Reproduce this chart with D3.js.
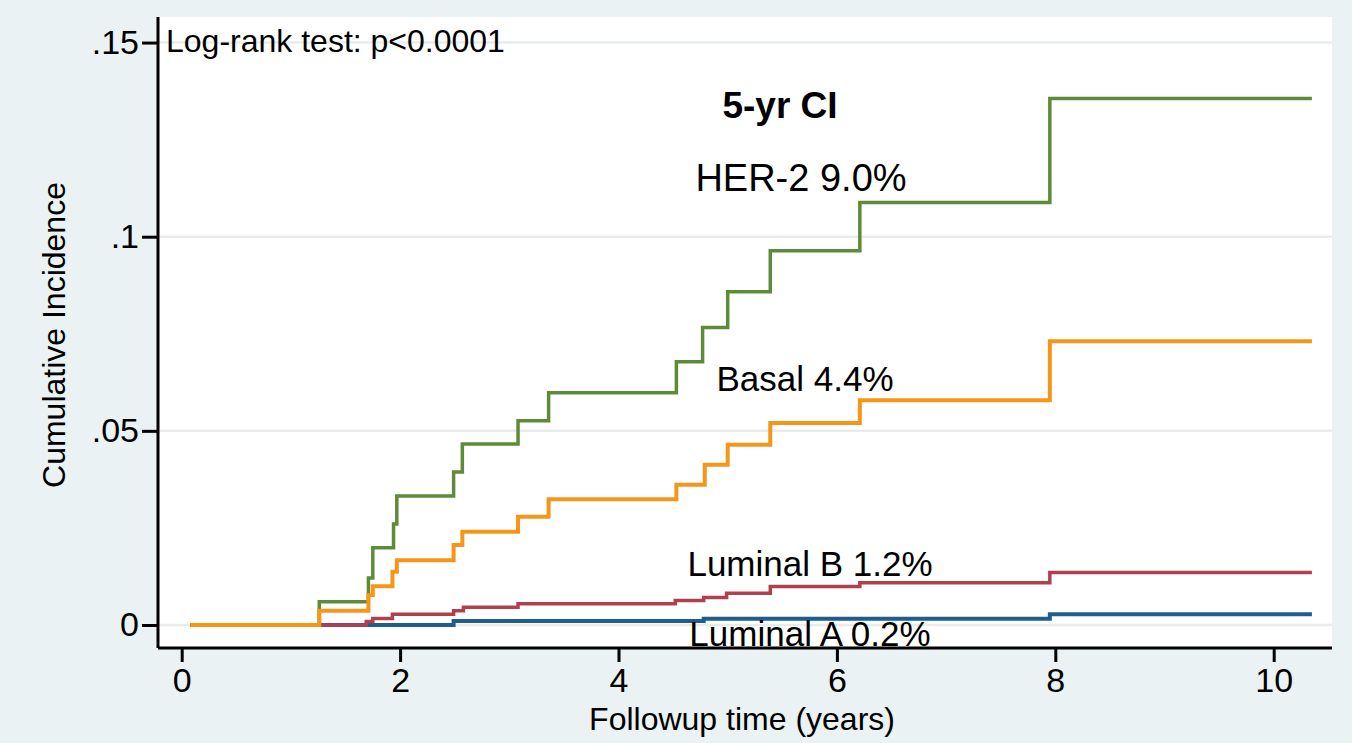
<!DOCTYPE html>
<meta charset="utf-8">
<style>
body { margin: 0; }
text { font-family: "Liberation Sans", Arial, sans-serif; fill: #000; }
.tick text { font-size: 34px; }
.axis path, .axis line { stroke: #000; stroke-width: 3px; }
.ann { font-size: 32px; }
</style>
<svg width="1352" height="743"></svg>
<script src="https://d3js.org/d3.v7.min.js"></script>
<script>
// follow-up times (years) and cumulative incidence, one pair per subtype
var her2Time  = [0.08, 1.26, 1.71, 1.75, 1.94, 1.97, 2.49, 2.57, 3.08, 3.36, 4.53, 4.77, 5.00, 5.39, 6.21, 7.95, 10.35];
var her2Ci    = [0, 0.0060, 0.0121, 0.0199, 0.0260, 0.0332, 0.0394, 0.0466, 0.0526, 0.0598, 0.0678, 0.0766, 0.0858, 0.0964, 0.1088, 0.1356, 0.1356];
var basalTime = [0.08, 1.26, 1.71, 1.75, 1.93, 1.97, 2.49, 2.57, 3.08, 3.36, 4.53, 4.79, 5.00, 5.39, 6.21, 7.95, 10.35];
var basalCi   = [0, 0.0037, 0.0077, 0.0100, 0.0137, 0.0167, 0.0206, 0.0240, 0.0279, 0.0324, 0.0361, 0.0413, 0.0464, 0.0520, 0.0579, 0.0731, 0.0731];
var lumBTime  = [0.08, 1.69, 1.75, 1.93, 2.49, 2.58, 3.08, 4.52, 4.78, 4.99, 5.39, 6.21, 7.95, 10.35];
var lumBCi    = [0, 0.0009, 0.0017, 0.0028, 0.0037, 0.0046, 0.0055, 0.0063, 0.0071, 0.0082, 0.0099, 0.0109, 0.0135, 0.0135];
var lumATime  = [0.08, 2.49, 4.78, 7.95, 10.35];
var lumACi    = [0, 0.0010, 0.0016, 0.0028, 0.0028];

var xTicks = [0, 2, 4, 6, 8, 10];
var yTicks = [0, 0.05, 0.1, 0.15];

// labels next to the curves
var labels = ["5-yr CI", "HER-2 9.0%", "Basal 4.4%", "Luminal B 1.2%", "Luminal A 0.2%"];

var svg = d3.select("svg");

// plot region edges ("top" is taken by window.top)
var pLeft = 158, pRight = 1332, pTop = 17, pBottom = 648;

var x = d3.scaleLinear().domain([0, 10]).range([181.7, 1273.7]);
var y = d3.scaleLinear().domain([0, 0.1]).range([625, 236.7]);

// backgrounds
svg.append("rect").attr("width", 1352).attr("height", 743).attr("fill", "#eaf2f3");
svg.append("rect").attr("x", pLeft).attr("y", pTop)
   .attr("width", pRight - pLeft).attr("height", pBottom - pTop).attr("fill", "#fff");

// grid
svg.selectAll(".grid").data(yTicks).enter()
   .append("line")
   .attr("class", "grid")
   .attr("x1", pLeft).attr("x2", pRight)
   .attr("y1", function(d) { return y(d); })
   .attr("y2", function(d) { return y(d); })
   .attr("stroke", "#e8ecee")
   .attr("stroke-width", 2.5);

// curves
var series = [
  {t: lumATime,  v: lumACi,  color: "#1f5d8f", w: 4},
  {t: lumBTime,  v: lumBCi,  color: "#b0404e", w: 3.5},
  {t: her2Time,  v: her2Ci,  color: "#5e8b3a", w: 3.5},
  {t: basalTime, v: basalCi, color: "#f5961a", w: 4}
];

var line = d3.line()
    .curve(d3.curveStepAfter)
    .x(function(d) { return x(d[0]); })
    .y(function(d) { return y(d[1]); });

svg.selectAll(".curve").data(series).enter()
   .append("path")
   .attr("class", "curve")
   .attr("fill", "none")
   .attr("stroke", function(d) { return d.color; })
   .attr("stroke-width", function(d) { return d.w; })
   .attr("d", function(d) { return line(d3.zip(d.t, d.v)); });

// axes
var fmtY = function(d) { return d === 0 ? "0" : d3.format(".2~f")(d).replace(/^0/, ""); };

var yAxis = svg.append("g")
   .attr("class", "axis")
   .attr("transform", "translate(" + pLeft + ",0)")
   .call(d3.axisLeft(y).tickValues(yTicks).tickFormat(fmtY).tickSize(16).tickPadding(3).tickSizeOuter(0));
yAxis.select(".domain").attr("d", "M0," + pTop + "V" + pBottom);

var xAxis = svg.append("g")
   .attr("class", "axis")
   .attr("transform", "translate(0," + pBottom + ")")
   .call(d3.axisBottom(x).tickValues(xTicks).tickSize(14).tickPadding(6).tickSizeOuter(0));
xAxis.select(".domain").attr("d", "M" + pLeft + ",0H" + pRight);

svg.selectAll(".axis text").attr("font-family", null).attr("font-size", null);

// axis titles
svg.append("text")
   .attr("class", "ann")
   .attr("font-size", 31)
   .attr("text-anchor", "middle")
   .attr("transform", "translate(742,730)")
   .text("Followup time (years)");

svg.append("text")
   .attr("class", "ann")
   .attr("font-size", 33)
   .attr("text-anchor", "middle")
   .attr("transform", "translate(65,335) rotate(-90)")
   .text("Cumulative Incidence");

svg.append("text")
   .attr("class", "ann")
   .attr("x", 166).attr("y", 52)
   .text("Log-rank test: p<0.0001");

// curve labels
var labelPos = [[780, 118], [801, 191], [805, 391], [810, 576], [810, 646]];
var labelSize = [37, 38, 35, 35, 35];
svg.selectAll(".lab").data(labels).enter()
   .append("text")
   .attr("class", "lab")
   .attr("text-anchor", "middle")
   .attr("x", function(d, i) { return labelPos[i][0]; })
   .attr("y", function(d, i) { return labelPos[i][1]; })
   .attr("font-size", function(d, i) { return labelSize[i]; })
   .attr("font-weight", function(d, i) { return i === 0 ? "bold" : null; })
   .text(function(d) { return d; });
</script>
